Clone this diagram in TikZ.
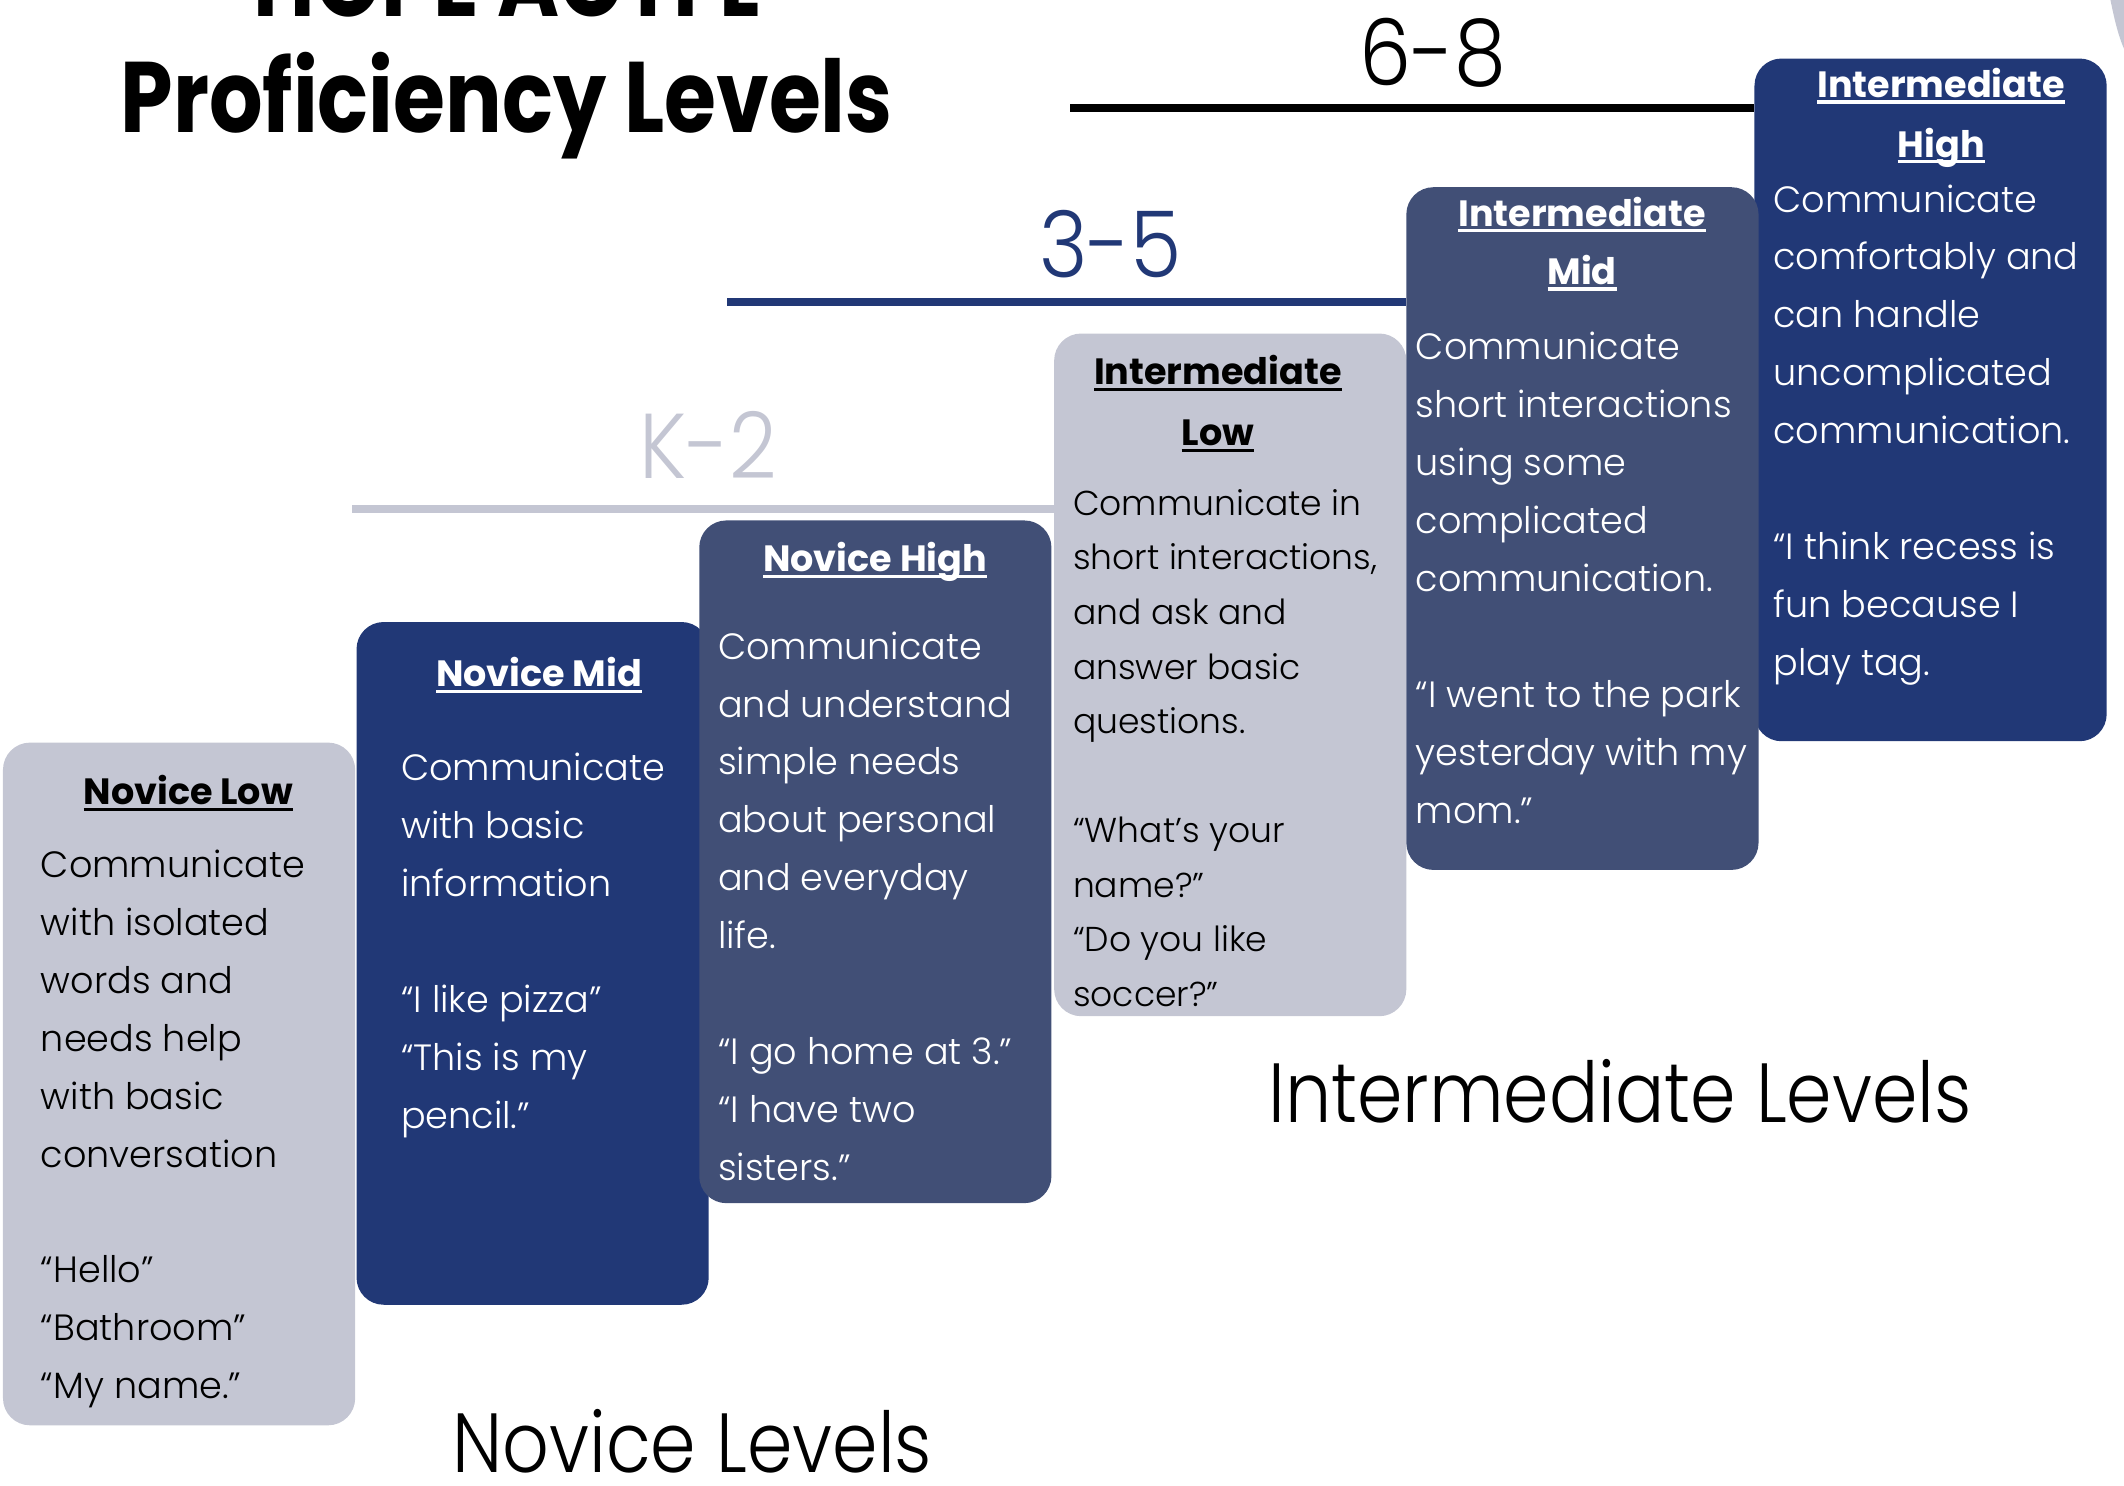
\documentclass[tikz,border=0pt]{standalone}
\usepackage{fontspec}
\setmainfont{Poppins}
\IfFontExistsTF{Poppins Light}{\newfontfamily\lightfont{Poppins Light}}{\newfontfamily\lightfont{Poppins}}
\usetikzlibrary{positioning}

\definecolor{bandgray}{HTML}{C4C6D3}
\definecolor{bandnavy}{HTML}{213876}
\definecolor{bandslate}{HTML}{414F76}

\newcommand{\lvlul}[1]{\setbox0=\hbox{#1}\rlap{\rule[-0.17em]{\wd0}{0.09em}}\box0}

\tikzset{
  lvlbox/.style={anchor=north west, minimum width=260pt, minimum height=504pt,
    rounded corners=20pt, inner sep=0pt},
  lvltitle/.style={anchor=base, inner sep=0pt, font=\fontsize{27}{43}\selectfont\bfseries},
  lvltext/.style={anchor=north west, inner sep=0pt, align=left,
    font=\lightfont\fontsize{27}{42.8}\selectfont, execute at begin node={\rule{0pt}{30pt}}},
  bandline/.style={line width=6pt},
  bandlabel/.style={anchor=base, inner sep=0pt, font=\lightfont\fontsize{68}{70}\selectfont},
  levellabel/.style={anchor=base, inner sep=0pt, font=\lightfont\fontsize{62}{70}\selectfont},
}

\begin{document}
\begin{tikzpicture}[x=1pt,y=-1pt]
\useasboundingbox (0,0) rectangle (1568,1097);
\clip (0,0) rectangle (1568,1097);

% title
\node[anchor=base, inner sep=0pt, font=\fontsize{74}{80}\selectfont\bfseries] (head1) at (374,12) {\scalebox{0.84}[1]{HOPE ACTFL}};
\node[anchor=base, inner sep=0pt, font=\fontsize{74}{80}\selectfont\bfseries] (head2) at (374,98) {\scalebox{0.84}[1]{Proficiency Levels}};
\fill[bandgray] (1558,0) .. controls (1561,15) and (1564,27) .. (1568,36) -- (1568,0) -- cycle;

% novice boxes
\node[lvlbox, fill=bandgray] (nl) at (2,548) {};
\node[lvltitle] (nltitle) at (139,594) {\lvlul{Novice Low}};
\node[lvltext] (nltext) at (30,627) {Communicate\\with isolated\\words and\\needs help\\with basic\\conversation\\[42.8pt]“Hello”\\“Bathroom”\\“My name.”};

\node[lvlbox, fill=bandnavy] (nm) at (263,459) {};
\node[lvltitle, text=white] (nmtitle) at (398,507) {\lvlul{Novice Mid}};
\node[lvltext, text=white] (nmtext) at (296,556) {Communicate\\with basic\\information\\[42.8pt]“I like pizza”\\“This is my\\pencil.”};

\node[lvlbox, fill=bandslate] (nh) at (516,384) {};
\node[lvltitle, text=white] (nhtitle) at (646,422) {\lvlul{Novice High}};
\node[lvltext, text=white] (nhtext) at (530,466) {Communicate\\and understand\\simple needs\\about personal\\and everyday\\life.\\[42.8pt]“I go home at 3.”\\“I have two\\sisters.”};

% intermediate boxes
\node[lvlbox, fill=bandgray] (il) at (778,246) {};
\node[lvltitle] (iltitle) at (899,284) {\lvlul{Intermediate}};
\node[lvltitle] (iltitle2) at (899,329) {\lvlul{Low}};
\node[lvltext, font=\lightfont\fontsize{25.5}{40.3}\selectfont] (iltext) at (792,361) {Communicate in\\short interactions,\\and ask and\\answer basic\\questions.\\[40.3pt]“What’s your\\name?”\\“Do you like\\soccer?”};

\node[lvlbox, fill=bandnavy] (ih) at (1295,43) {};
\node[lvltitle, text=white] (ihtitle) at (1433,72) {\lvlul{Intermediate}};
\node[lvltitle, text=white] (ihtitle2) at (1433,116) {\lvlul{High}};
\node[lvltext, text=white] (ihtext) at (1309,136) {Communicate\\comfortably and\\can handle\\uncomplicated\\communication.\\[42.8pt]“I think recess is\\fun because I\\play tag.};

\node[lvlbox, fill=bandslate] (im) at (1038,138) {};
\node[lvltitle, text=white] (imtitle) at (1168,167) {\lvlul{Intermediate}};
\node[lvltitle, text=white] (imtitle2) at (1168,210) {\lvlul{Mid}};
\node[lvltext, text=white] (imtext) at (1045,245) {Communicate\\short interactions\\using some\\complicated\\communication.\\[42.8pt]“I went to the park\\yesterday with my\\mom.”};

% grade bands
\node[bandlabel] (g68) at (1058,63) {\scalebox{0.9}[1]{6-8}};
\coordinate (g68start) at (790,80);
\draw[bandline, black] (g68start) -- (g68start -| ih.west);
\node[bandlabel, text=bandnavy] (g35) at (820,205) {\scalebox{0.9}[1]{3-5}};
\coordinate (g35start) at (537,223);
\draw[bandline, bandnavy] (g35start) -- (g35start -| im.west);
\node[bandlabel, text=bandgray] (gk2) at (523,353) {\scalebox{0.9}[1]{K-2}};
\coordinate (gk2start) at (260,376);
\draw[bandline, bandgray] (gk2start) -- (gk2start -| il.west);

% level names
\node[levellabel] (intlevels) at (1196,829) {\scalebox{0.87}[1]{Intermediate Levels}};
\node[levellabel] (novlevels) at (511,1087) {\scalebox{0.87}[1]{Novice Levels}};
\end{tikzpicture}
\end{document}
